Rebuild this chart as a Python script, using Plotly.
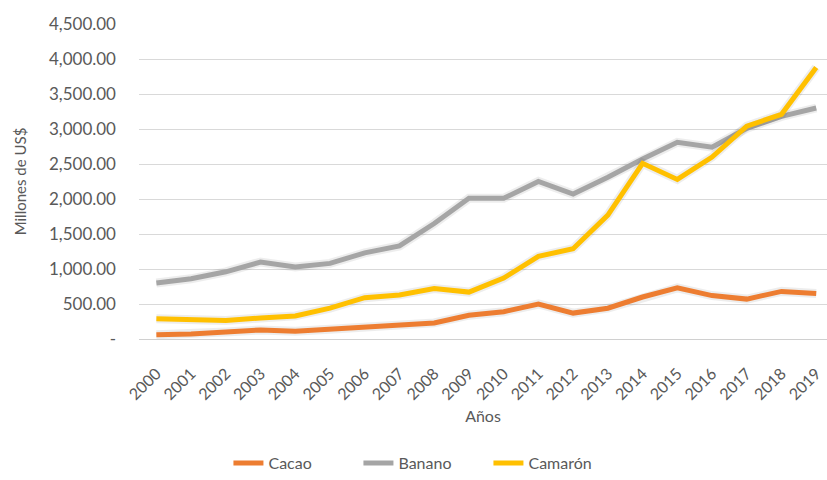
import plotly.graph_objects as go

# Exportaciones anuales (millones de US$)
anios = [str(a) for a in range(2000, 2020)]
cacao = [60, 70, 100, 130, 110, 140, 160, 200, 230, 340,
         390, 500, 370, 440, 600, 730, 620, 570, 680, 650]
banano = [800, 860, 960, 1100, 1030, 1080, 1230, 1330, 1650, 2010,
          2010, 2250, 2070, 2310, 2570, 2810, 2740, 3010, 3180, 3300]
camaron = [290, 285, 265, 300, 330, 440, 590, 630, 720, 670,
           870, 1180, 1290, 1770, 2510, 2280, 2600, 3040, 3210, 3880]

y_ticks = [0, 500, 1000, 1500, 2000, 2500, 3000, 3500, 4000, 4500]
y_labels = ["-"] + [f"{v:,.2f}" for v in y_ticks[1:]]

series = [
    ("Cacao", cacao, "#ED7D31"),
    ("Banano", banano, "#A5A5A5"),
    ("Camarón", camaron, "#FFC000"),
]

text_color = "#595959"
font_family = "Lato, 'Open Sans', sans-serif"

fig = go.Figure()
for name, values, color in series:
    # soft halo under each line
    fig.add_trace(go.Scatter(
        x=anios, y=values, mode="lines", showlegend=False, hoverinfo="skip",
        line=dict(color="rgba(0,0,0,0.07)", width=9),
    ))
    fig.add_trace(go.Scatter(
        x=anios, y=values, name=name, mode="lines",
        line=dict(color=color, width=5),
    ))

fig.update_layout(
    width=827, height=480,
    margin=dict(l=139, r=0, t=24, b=141, autoexpand=False),
    paper_bgcolor="white", plot_bgcolor="white",
    font=dict(family=font_family, color=text_color, size=16),
    showlegend=True,
    legend=dict(orientation="h", x=0.13, xanchor="left",
                y=0.035, yref="container", yanchor="middle",
                entrywidth=85, entrywidthmode="pixels",
                font=dict(size=16, color=text_color), itemwidth=30),
)
fig.update_xaxes(
    type="category", range=[-0.5, 19.31], automargin=False,
    tickangle=-45, tickfont=dict(size=16, color=text_color),
    ticklabelstandoff=18,
    showgrid=False, showline=True, linecolor="#d0d0d0", linewidth=1,
    ticks="", title=dict(text="Años", font=dict(size=16, color=text_color),
                         standoff=8),
)
fig.update_yaxes(
    range=[0, 4500], tickvals=y_ticks, ticktext=y_labels, automargin=False,
    tickfont=dict(size=17, color=text_color),
    ticklabelstandoff=22,
    showgrid=True, gridcolor="#d9d9d9", gridwidth=1,
    zeroline=False, showline=False, ticks="",
    title=dict(text="Millones de US$", font=dict(size=15, color=text_color),
               standoff=18),
)

fig.write_html("out.html")
